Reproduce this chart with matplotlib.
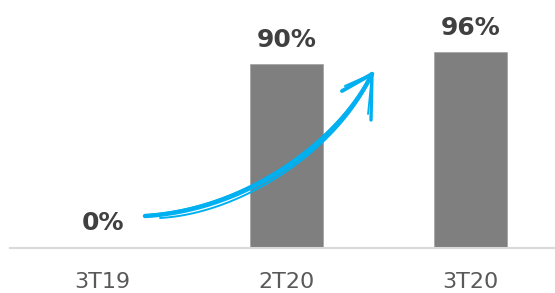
import numpy as np
import matplotlib
matplotlib.use('Agg')
import matplotlib.pyplot as plt

# chart data
periods = ['3T19', '2T20', '3T20']
values = [0, 90, 96]
value_labels = ['0%', '90%', '96%']

bar_color = '#7f7f7f'
label_color = '#404040'
tick_color = '#595959'
arrow_color = '#00b0f0'

fig = plt.figure(figsize=(5.55, 2.93), dpi=100)
ax = fig.add_axes([10 / 555, 45 / 293, 545 / 555, 248 / 293])

x = np.arange(len(periods))
ax.bar(x, values, width=0.4, color=bar_color, edgecolor='#a6a6a6', linewidth=0.6, zorder=2)
ax.set_xlim(-0.503, 2.459)
ax.set_ylim(0, 121.6)

for xi, v, lab in zip(x, values, value_labels):
    ax.annotate(lab, (xi, v), xytext=(0, 9), textcoords='offset points',
                ha='center', va='bottom', fontsize=18, fontweight='bold',
                color=label_color, family='DejaVu Sans')

ax.set_xticks(x)
ax.set_xticklabels(periods, fontsize=16, color=tick_color, family='DejaVu Sans')
ax.tick_params(axis='x', length=0, pad=17)
ax.set_yticks([])
for s in ['top', 'right', 'left']:
    ax.spines[s].set_visible(False)
ax.spines['bottom'].set_color('#d9d9d9')
ax.spines['bottom'].set_linewidth(1.5)

# hand-drawn style arrow, overlay in pixel coordinates
ov = fig.add_axes([0, 0, 1, 1], facecolor='none')
ov.set_xlim(0, 555)
ov.set_ylim(293, 0)
ov.axis('off')

def bezier(p0, p1, p2, p3, n=80):
    t = np.linspace(0, 1, n)[:, None]
    pts = [np.array(p) for p in (p0, p1, p2, p3)]
    return ((1 - t) ** 3 * pts[0] + 3 * (1 - t) ** 2 * t * pts[1]
            + 3 * (1 - t) * t ** 2 * pts[2] + t ** 3 * pts[3])

strokes = [
    ((145, 216), (250, 210), (340, 140), (372, 74), 3.2),
    ((150, 215), (252, 206), (338, 138), (371, 76), 1.8),
    ((160, 218), (248, 213), (342, 143), (370, 78), 1.4),
]
for p0, p1, p2, p3, lw in strokes:
    c = bezier(p0, p1, p2, p3)
    ov.plot(c[:, 0], c[:, 1], color=arrow_color, lw=lw, solid_capstyle='round', zorder=5)

tip = (372, 74)
for wing, lw in [((342, 91), 2.8), ((345, 86), 1.5), ((371, 120), 2.4), ((368, 114), 1.3)]:
    ov.plot([tip[0], wing[0]], [tip[1], wing[1]], color=arrow_color, lw=lw,
            solid_capstyle='round', zorder=5)

fig.savefig('out.png', dpi=100)
